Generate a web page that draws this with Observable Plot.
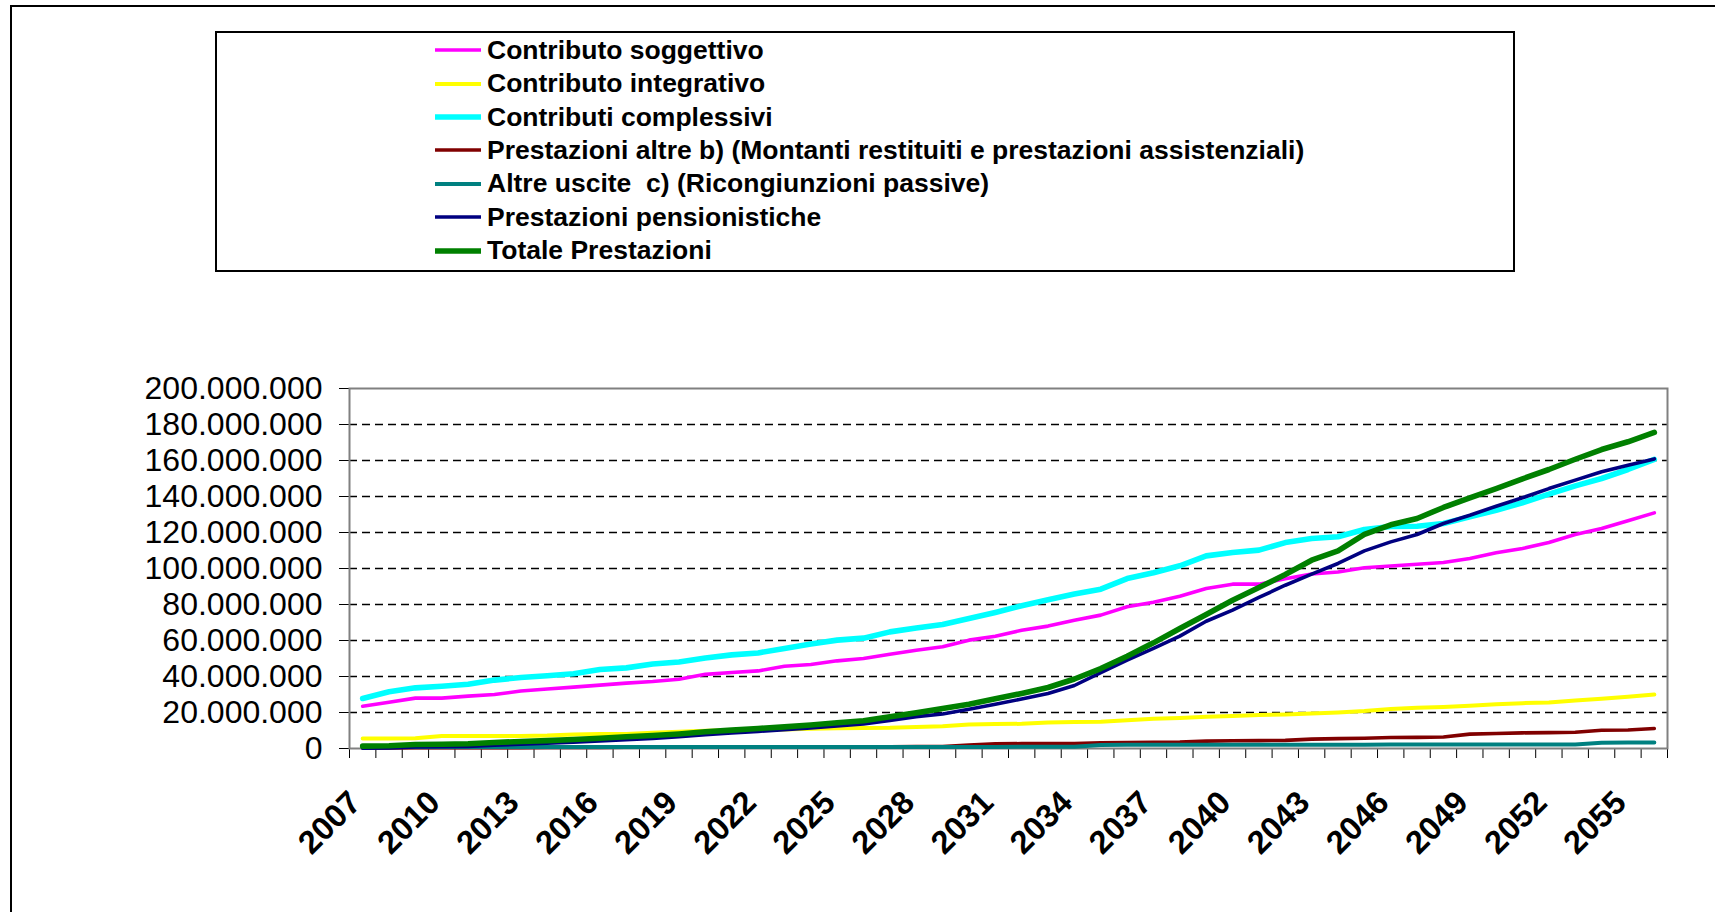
<!DOCTYPE html>
<html>
<head>
<meta charset="utf-8">
<script src="https://cdn.jsdelivr.net/npm/d3@7"></script>
<script src="https://cdn.jsdelivr.net/npm/@observablehq/plot@0.6"></script>
<style>
  html, body { margin: 0; padding: 0; background: #fff; }
  #chart { position: relative; width: 1715px; height: 912px; overflow: hidden; background: #fff;
           font-family: "Liberation Sans", Arial, sans-serif; color: #000; }
  #outer { position: absolute; left: 10px; top: 5px; width: 1800px; height: 1000px; border: 2px solid #000; }
  #legend { position: absolute; left: 215px; top: 31px; width: 1296px; height: 237px; border: 2px solid #000; background: #fff; }
  .row { position: absolute; left: 218px; height: 33.4px; display: flex; align-items: center; white-space: pre; }
  .row svg { display: block; margin-right: 6px; }
  .row span { font-size: 26.5px; font-weight: bold; }
  #plot { position: absolute; left: 0; top: 300px; }
</style>
</head>
<body>
<div id="chart">
  <div id="outer"></div>
  <div id="legend"></div>
  <div id="plot"></div>
</div>
<script>
// Years on the category axis
const years = d3.range(2007, 2057);
const labelYears = [2007, 2010, 2013, 2016, 2019, 2022, 2025, 2028, 2031, 2034, 2037, 2040, 2043, 2046, 2049, 2052, 2055];
const yTicks = [0, 20e6, 40e6, 60e6, 80e6, 100e6, 120e6, 140e6, 160e6, 180e6, 200e6];

// Series values, millions of euro, one value per year 2007–2056
const contributoSoggettivo = [
  23.5, 25.7, 28.0, 28.0, 29.1, 30.0, 31.9, 33.1, 34.1, 35.2, 36.3, 37.2, 38.5, 41.2,
  42.2, 43.1, 45.7, 46.7, 48.7, 50.0, 52.4, 54.6, 56.5, 60.2, 62.4, 65.7, 68.0, 71.3,
  74.1, 78.7, 81.3, 84.6, 88.9, 91.3, 91.3, 94.3, 96.9, 98.1, 100.4,
  101.4, 102.4, 103.3, 105.6, 108.7, 111.1, 114.4, 118.9, 122.2, 126.5, 130.9
];
const contributoIntegrativo = [
  5.6, 5.6, 5.7, 7.0, 7.0, 7.0, 7.0, 7.2, 7.8, 8.1, 8.1, 8.7, 9.3, 9.8,
  10.2, 10.4, 10.6, 11.0, 11.2, 11.4, 11.5, 12.0, 12.4, 13.4, 13.6, 13.7, 14.5, 14.7,
  14.9, 15.7, 16.5, 17.0, 17.6, 18.0, 18.6, 18.9, 19.5, 20.0, 20.8,
  22.0, 22.6, 23.1, 23.7, 24.6, 25.2, 25.6, 26.7, 27.6, 28.7, 30.0
];
const contributiComplessivi = [
  27.8, 31.5, 33.7, 34.6, 35.7, 38.0, 39.4, 40.4, 41.5, 43.9, 44.8, 46.9, 48.1, 50.3,
  52.0, 53.1, 55.6, 58.0, 60.2, 61.3, 64.8, 67.0, 68.9, 72.2, 75.6, 79.3, 82.6, 85.8,
  88.5, 94.4, 97.6, 101.5, 107.0, 108.9, 110.2, 114.4, 116.7, 117.6, 121.7,
  123.3, 123.5, 125.0, 128.7, 132.4, 136.5, 141.3, 145.9, 150.0, 155.0, 160.6
];
const prestazioniAltre = [
  0.3, 0.3, 0.4, 0.4, 0.5, 0.5, 0.5, 0.6, 0.6, 0.6, 0.7, 0.7, 0.7, 0.8,
  0.8, 0.8, 0.9, 0.9, 1.0, 1.0, 1.0, 1.1, 1.1, 1.9, 2.6, 2.7, 2.8, 2.8,
  3.1, 3.3, 3.5, 3.6, 4.1, 4.3, 4.4, 4.5, 5.2, 5.5, 5.7,
  6.1, 6.2, 6.4, 8.0, 8.3, 8.7, 8.8, 9.0, 10.1, 10.3, 11.1
];
const altreUscite = [
  0.8, 0.8, 0.8, 0.8, 0.9, 0.9, 0.9, 0.9, 0.9, 0.9, 0.9, 0.9, 0.9, 0.9,
  0.9, 0.9, 0.9, 0.9, 0.9, 0.9, 0.9, 0.9, 0.9, 0.9, 0.9, 1.0, 1.0, 1.0,
  2.0, 2.1, 2.1, 2.1, 2.1, 2.1, 2.1, 2.1, 2.1, 2.1, 2.1,
  2.2, 2.2, 2.2, 2.2, 2.2, 2.2, 2.2, 2.2, 3.2, 3.3, 3.3
];
const prestazioniPensionistiche = [
  0.1, 0.3, 0.8, 1.0, 1.2, 1.8, 2.4, 2.9, 3.5, 4.2, 4.9, 5.6, 6.5, 7.6,
  8.6, 9.5, 10.4, 11.4, 12.5, 13.6, 15.6, 17.7, 19.2, 21.8, 24.6, 27.5, 30.6, 35.0,
  42.2, 49.1, 55.6, 62.4, 70.7, 76.9, 83.9, 90.7, 96.9, 102.8, 109.8,
  114.8, 118.9, 125.0, 129.6, 134.6, 139.3, 144.4, 149.1, 153.7, 157.4, 160.9
];
const totalePrestazioni = [
  1.3, 1.5, 2.2, 2.4, 2.6, 3.3, 3.9, 4.4, 5.0, 5.7, 6.5, 7.2, 8.1, 9.3,
  10.2, 11.1, 12.0, 13.1, 14.3, 15.4, 17.6, 19.8, 22.2, 24.6, 27.6, 30.6, 33.9, 38.6,
  44.4, 51.3, 58.7, 66.7, 74.4, 82.4, 89.4, 96.7, 104.6, 109.8, 118.9,
  124.3, 127.8, 133.9, 139.3, 144.4, 149.8, 155.0, 160.7, 166.1, 170.4, 175.6
];

// Series in drawing order (later ones paint on top)
const series = [
  {name: "Contributo soggettivo", values: contributoSoggettivo, color: "#FF00FF", width: 3.6},
  {name: "Contributo integrativo", values: contributoIntegrativo, color: "#FFFF00", width: 4},
  {name: "Contributi complessivi", values: contributiComplessivi, color: "#00FFFF", width: 5.6},
  {name: "Prestazioni altre b) (Montanti restituiti e prestazioni assistenziali)", values: prestazioniAltre, color: "#800000", width: 3.6},
  {name: "Altre uscite  c) (Ricongiunzioni passive)", values: altreUscite, color: "#008080", width: 4},
  {name: "Prestazioni pensionistiche", values: prestazioniPensionistiche, color: "#000080", width: 3.6},
  {name: "Totale Prestazioni", values: totalePrestazioni, color: "#008000", width: 5.6}
];

// Legend
const legend = document.getElementById("legend");
series.forEach((s, k) => {
  const row = document.createElement("div");
  row.className = "row";
  row.style.top = (0.6 + 33.4 * k) + "px";
  const sw = d3.create("svg").attr("width", 46).attr("height", 10);
  sw.append("line").attr("x1", 0).attr("x2", 46).attr("y1", 5).attr("y2", 5)
    .attr("stroke", s.color).attr("stroke-width", s.width);
  row.appendChild(sw.node());
  const label = document.createElement("span");
  label.textContent = s.name;
  row.appendChild(label);
  legend.appendChild(row);
});

// Italian number format: 200.000.000
const it = d3.formatLocale({decimal: ",", thousands: ".", grouping: [3], currency: ["", " €"]});
const fmt = it.format(",.0f");

const boundaries = d3.range(2006.5, 2057, 1);
const gridValues = yTicks.slice(1, -1);

const lineMarks = series.map(s => Plot.line(
  years.map((year, i) => ({year, value: s.values[i] * 1e6})),
  {x: "year", y: "value", stroke: s.color, strokeWidth: s.width, strokeLinejoin: "round", strokeLinecap: "round"}
));

const chart = Plot.plot({
  width: 1715,
  height: 600,
  marginLeft: 349,
  marginRight: 48,
  marginTop: 88,
  marginBottom: 152,
  style: {fontFamily: "'Liberation Sans', Arial, sans-serif", fontSize: "32px", color: "#000", background: "transparent", overflow: "visible"},
  x: {type: "linear", domain: [2006.5, 2056.5], ticks: boundaries, tickSize: 10, tickFormat: () => "", label: null},
  y: {domain: [0, 200e6], ticks: yTicks, tickSize: 10, tickPadding: 17, tickFormat: fmt, label: null},
  marks: [
    Plot.ruleY(gridValues, {stroke: "#000", strokeWidth: 1.4, strokeDasharray: "8,5"}),
    Plot.frame({stroke: "#808080", strokeWidth: 2}),
    ...lineMarks,
    Plot.text(labelYears, {
      x: d => d, text: d => String(d), frameAnchor: "bottom", dy: 56, rotate: -45,
      textAnchor: "end", lineAnchor: "bottom", fontSize: 32.5, fontWeight: "bold", fill: "#000"
    })
  ]
});
document.getElementById("plot").appendChild(chart);
</script>
</body>
</html>
